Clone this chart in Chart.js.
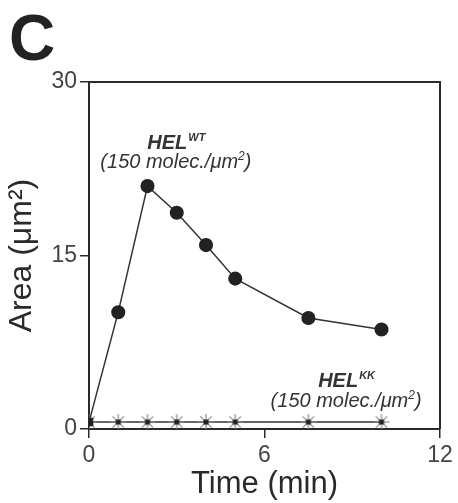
<!DOCTYPE html>
<html>
<head>
<meta charset="utf-8">
<script src="https://cdn.jsdelivr.net/npm/chart.js@4"></script>
<style>
  html, body { margin: 0; padding: 0; background: #fff; }
  #wrap { width: 458px; height: 503px; }
</style>
</head>
<body>
<div id="wrap"><canvas id="areaChart" width="458" height="503"></canvas></div>
<script>
// data
const times = [0, 1, 2, 3, 4, 5, 7.5, 10];
const helWT = [0.6, 10.1, 21.0, 18.7, 15.9, 13.0, 9.6, 8.6];
const helKK = [0.6, 0.6, 0.6, 0.6, 0.6, 0.6, 0.6, 0.6];
const xTicks = [0, 6, 12];
const yTicks = [0, 15, 30];

const FONT = '"Liberation Sans", Arial, Helvetica, sans-serif';
const INK = '#2a2a2a';

// asterisk marker with a dark centre, like the KK points
function starMarker() {
  const c = document.createElement('canvas');
  c.width = 18; c.height = 18;
  const g = c.getContext('2d');
  g.strokeStyle = '#8a8a8a';
  g.lineWidth = 1.2;
  for (let i = 0; i < 4; i++) {
    const a = i * Math.PI / 4;
    g.beginPath();
    g.moveTo(9 - 8 * Math.cos(a), 9 - 8 * Math.sin(a));
    g.lineTo(9 + 8 * Math.cos(a), 9 + 8 * Math.sin(a));
    g.stroke();
  }
  g.fillStyle = '#222';
  g.fillRect(6.5, 6.5, 5, 5);
  return c;
}

// frame, panel letter and the two in-plot labels
const extras = {
  id: 'extras',
  afterDraw(chart) {
    const { ctx, chartArea: a, scales } = chart;
    ctx.save();
    ctx.strokeStyle = INK;
    ctx.lineWidth = 2;
    ctx.beginPath();
    ctx.moveTo(a.left, a.top);
    ctx.lineTo(a.right, a.top);
    ctx.lineTo(a.right, a.bottom);
    ctx.stroke();

    ctx.fillStyle = '#222';
    ctx.textBaseline = 'alphabetic';
    ctx.font = 'bold 64px ' + FONT;
    ctx.fillText('C', 9, 60);

    function label(name, sup, xv, y1, y2) {
      const cx = scales.x.getPixelForValue(xv);
      ctx.font = 'italic bold 20px ' + FONT;
      const w1 = ctx.measureText(name).width;
      ctx.font = 'italic bold 11px ' + FONT;
      const w2 = ctx.measureText(sup).width;
      let x0 = cx - (w1 + w2) / 2;
      const b1 = scales.y.getPixelForValue(y1);
      ctx.font = 'italic bold 20px ' + FONT;
      ctx.textAlign = 'left';
      ctx.fillText(name, x0, b1);
      ctx.font = 'italic bold 11px ' + FONT;
      ctx.fillText(sup, x0 + w1 + 1, b1 - 8);
      const b2 = scales.y.getPixelForValue(y2);
      const p1 = '(150 molec./\u03bcm', p2 = ')';
      ctx.font = 'italic 20px ' + FONT;
      const wa = ctx.measureText(p1).width;
      ctx.font = 'italic 12px ' + FONT;
      const ws = ctx.measureText('2').width;
      ctx.font = 'italic 20px ' + FONT;
      const wb = ctx.measureText(p2).width;
      x0 = cx - (wa + ws + wb) / 2;
      ctx.fillText(p1, x0, b2);
      ctx.font = 'italic 12px ' + FONT;
      ctx.fillText('2', x0 + wa, b2 - 8);
      ctx.font = 'italic 20px ' + FONT;
      ctx.fillText(p2, x0 + wa + ws, b2);
    }
    ctx.fillStyle = '#333';
    label('HEL', 'WT', 2.97, 24.2, 22.55);
    label('HEL', 'KK', 8.79, 3.6, 1.9);
    ctx.restore();
  }
};

const star = starMarker();

new Chart(document.getElementById('areaChart'), {
  type: 'line',
  data: {
    datasets: [{
      label: 'HEL WT',
      data: times.map((t, i) => ({ x: t, y: helWT[i] })),
      borderColor: '#333',
      borderWidth: 1.5,
      backgroundColor: '#222',
      pointBackgroundColor: '#222',
      pointBorderColor: '#222',
      pointStyle: times.map((t, i) => i === 0 ? 'rect' : 'circle'),
      pointRadius: times.map((t, i) => i === 0 ? 5 : 6.3),
      tension: 0
    }, {
      label: 'HEL KK',
      data: times.map((t, i) => ({ x: t, y: helKK[i] })),
      borderColor: '#333',
      borderWidth: 1.5,
      pointStyle: star,
      pointRadius: 9,
      tension: 0
    }]
  },
  options: {
    responsive: false,
    animation: false,
    layout: { padding: { top: 82, right: 18, left: 0, bottom: 0 } },
    plugins: { legend: { display: false }, tooltip: { enabled: false } },
    scales: {
      x: {
        type: 'linear',
        min: 0, max: 12,
        afterBuildTicks: s => { s.ticks = xTicks.map(v => ({ value: v })); },
        afterFit: s => { s.height = 74; },
        grid: { drawOnChartArea: false, drawTicks: true, tickLength: 9, color: INK, lineWidth: 1.5 },
        border: { display: true, color: INK, width: 2 },
        ticks: { color: '#444', padding: 4, maxRotation: 0, font: { family: FONT, size: 23 } },
        title: { display: true, text: 'Time (min)', color: '#2a2a2a', padding: { top: 0, bottom: 0 }, font: { family: FONT, size: 31 } }
      },
      y: {
        min: 0, max: 30,
        afterBuildTicks: s => { s.ticks = yTicks.map(v => ({ value: v })); },
        afterFit: s => { s.width = 89; },
        grid: { drawOnChartArea: false, drawTicks: true, tickLength: 9, color: INK, lineWidth: 1.5 },
        border: { display: true, color: INK, width: 2 },
        ticks: { color: '#444', padding: 3, font: { family: FONT, size: 23 } },
        title: { display: true, text: 'Area (\u03bcm\u00b2)', color: '#2a2a2a', padding: { top: 3, bottom: 0 }, font: { family: FONT, size: 32 } }
      }
    }
  },
  plugins: [extras]
});
</script>
</body>
</html>
